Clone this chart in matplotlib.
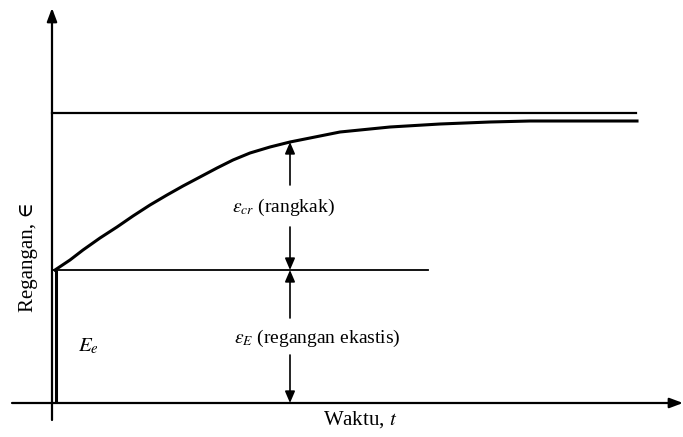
import matplotlib.pyplot as plt
import numpy as np

# creep curve (time, strain) in pixel-like units
t_curve = [0, 15, 28, 45, 62, 78, 95, 112, 128, 145, 162, 178, 195, 215, 235, 260,
           285, 335, 385, 435, 475, 582]
e_curve = [133, 143, 153, 165, 176, 187, 198, 208, 217, 226, 235, 243, 250, 256, 261, 266,
           271, 276, 279, 281, 282, 282]

E_ELASTIC = 133      # strain after instant load
E_LIMIT = 290        # upper limit line
T_ARROW = 235        # where the dimension arrows sit
T_ELASTIC_END = 373  # end of the elastic level line
T_LIMIT_END = 581

plt.rcParams['mathtext.fontset'] = 'stix'
FONT = ['Liberation Serif', 'DejaVu Serif']

fig = plt.figure(figsize=(6.83, 4.37), dpi=100)
ax = fig.add_axes([0, 0, 1, 1])
ax.set_xlim(-55, 628)
ax.set_ylim(-34, 403)
ax.axis('off')

LW = 1.6
ARROW = dict(arrowstyle='-|>,head_length=0.7,head_width=0.3', color='black', lw=1.2,
             shrinkA=0, shrinkB=0)

# axes with arrows
ax.annotate('', xy=(-3, 395), xytext=(-3, -17),
            arrowprops=dict(arrowstyle='-|>,head_length=0.8,head_width=0.3', color='black', lw=LW,
                            shrinkA=0, shrinkB=0))
ax.annotate('', xy=(628, 0), xytext=(-43, 0),
            arrowprops=dict(arrowstyle='-|>,head_length=0.8,head_width=0.3', color='black', lw=LW,
                            shrinkA=0, shrinkB=0))

# instant elastic strain
ax.plot([1, 1], [0, E_ELASTIC], color='black', lw=2.2, solid_capstyle='butt')

# horizontal reference lines
ax.plot([-3, T_LIMIT_END], [E_LIMIT, E_LIMIT], color='black', lw=LW)
ax.plot([-3, T_ELASTIC_END], [E_ELASTIC, E_ELASTIC], color='black', lw=1.3)

# creep curve
ax.plot(t_curve, e_curve, color='black', lw=2.2, solid_joinstyle='round')

# dimension arrows
e_top = np.interp(T_ARROW, t_curve, e_curve)
ax.annotate('', xy=(T_ARROW, e_top), xytext=(T_ARROW, 218), arrowprops=ARROW)
ax.annotate('', xy=(T_ARROW, E_ELASTIC), xytext=(T_ARROW, 176), arrowprops=ARROW)
ax.annotate('', xy=(T_ARROW, E_ELASTIC), xytext=(T_ARROW, 85), arrowprops=ARROW)
ax.annotate('', xy=(T_ARROW, 0), xytext=(T_ARROW, 48), arrowprops=ARROW)

# labels
ax.text(228, 196, r'$\varepsilon_{cr}$ (rangkak)', ha='center', va='center',
        fontsize=14, family=FONT)
ax.text(262, 65, r'$\varepsilon_{E}$ (regangan ekastis)', ha='center', va='center',
        fontsize=14, family=FONT)
ax.text(33, 57, r'$E_{e}$', ha='center', va='center', fontsize=15, family=FONT)
ax.text(305, -17, r'Waktu, $t$', ha='center', va='center', fontsize=15, family=FONT)
ax.text(-27, 146, 'Regangan, ∈', ha='center', va='center', rotation=90,
        fontsize=15, family=FONT)

fig.savefig('out.png', dpi=100)
